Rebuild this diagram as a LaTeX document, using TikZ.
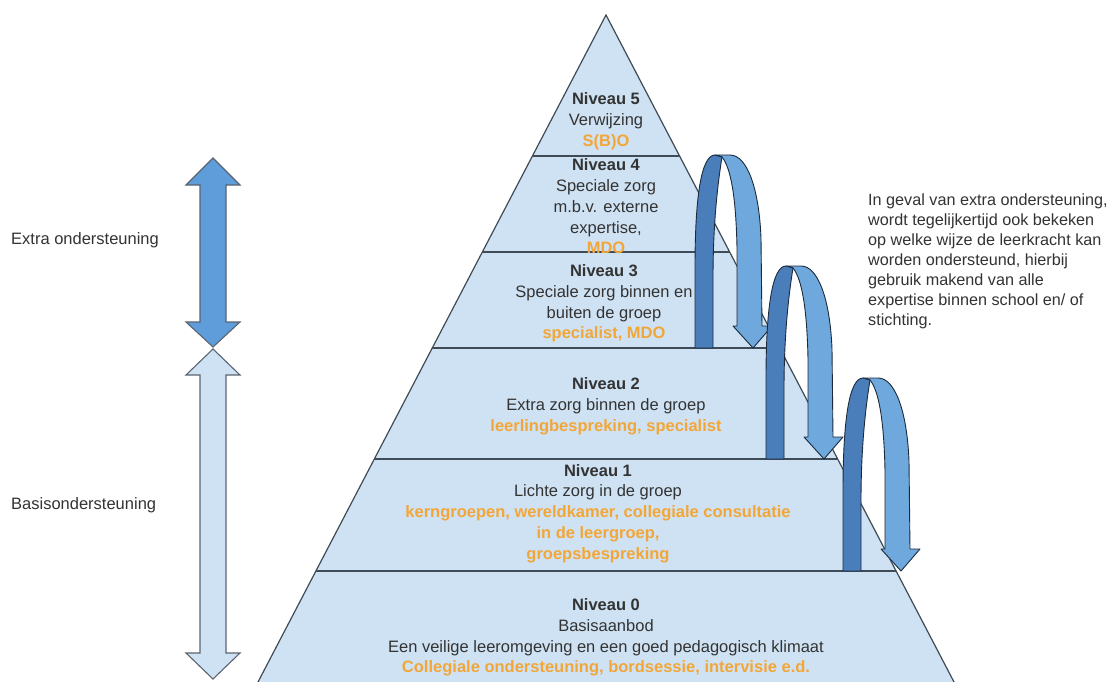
\documentclass[tikz,border=0pt]{standalone}
\usepackage{fontspec}
\setmainfont{Liberation Sans}
\usetikzlibrary{calc}
\definecolor{pyr}{HTML}{CFE2F3}
\definecolor{edge}{HTML}{3F4B57}
\definecolor{txt}{HTML}{333333}
\definecolor{org}{HTML}{F3A638}
\definecolor{riblight}{HTML}{6FA8DC}
\definecolor{ribdark}{HTML}{4A7EBB}
\definecolor{ribline}{HTML}{1C2B3C}
\definecolor{arrblue}{HTML}{5F9DDA}
\definecolor{arrline}{HTML}{5A6470}
\tikzset{
  lvl/.style={align=center, inner sep=0pt, text=txt, font=\fontsize{16.5}{20.8}\selectfont},
  sidelabel/.style={anchor=west, inner sep=0pt, text=txt, font=\fontsize{16.5}{20.8}\selectfont},
  note/.style={anchor=north west, align=left, inner sep=0pt, text=txt, font=\fontsize{16.2}{20}\selectfont},
  sepline/.style={draw=edge, line width=1.4pt},
  pyredge/.style={draw=edge, line width=1.2pt},
  ribbondark/.style={fill=ribdark, draw=ribline, line width=0.9pt, line join=round},
  ribbonlight/.style={fill=riblight, draw=ribline, line width=0.9pt, line join=round},
  dblupper/.style={fill=arrblue, draw=arrline, line width=1.1pt, line join=miter},
  dbllower/.style={fill=pyr, draw=arrline, line width=1.1pt, line join=miter},
  pics/uturn/.style={code={
    \filldraw[ribbonlight] (20,-193) -- (35,-193) .. controls (52,-193) and (64,-160) .. (66,-110) -- (67,-22) -- (77,-22) -- (58,0) -- (38,-22) -- (42,-22) -- (42,-100) .. controls (41,-150) and (36,-180) .. (27,-191) -- cycle;
    \filldraw[ribbondark] (0,0) -- (0,-80) .. controls (0,-150) and (6,-193) .. (20,-193) -- (27,-191) .. controls (22,-160) and (18,-120) .. (18,-70) -- (18,0) -- cycle;
  }}
}
\newcommand{\og}[1]{\textcolor{org}{\textbf{#1}}}
\begin{document}
\begin{tikzpicture}[x=1pt,y=-1pt]
\fill[white] (0,0) rectangle (1119,682);
\useasboundingbox (0,0) rectangle (1119,682);

% pyramid
\coordinate (apex) at (606,15);
\coordinate (bl) at (258,682);
\coordinate (br) at (954,682);
\fill[pyr] (apex) -- (bl) -- (br) -- cycle;
\draw[pyredge] (bl) -- (apex) -- (br);
\foreach \t in {0.2114,0.3553,0.4993,0.6657,0.8336}{
  \draw[sepline] ($(apex)!\t!(bl)$) -- ($(apex)!\t!(br)$);
}

% level texts
\node[lvl] (n5) at (606,121.5) {\textbf{Niveau 5}\\Verwijzing\\\og{S(B)O}};
\node[lvl] (n4) at (606,206.5) {\textbf{Niveau 4}\\Speciale zorg\\m.b.v. externe\\expertise,\\\og{MDO}};
\node[lvl] (n3) at (604,303.5) {\textbf{Niveau 3}\\Speciale zorg binnen en\\buiten de groep\\\og{specialist, MDO}};
\node[lvl] (n2) at (606,406) {\textbf{Niveau 2}\\Extra zorg binnen de groep\\\og{leerlingbespreking, specialist}};
\node[lvl] (n1) at (598,513.5) {\textbf{Niveau 1}\\Lichte zorg in de groep\\\og{kerngroepen, wereldkamer, collegiale consultatie}\\\og{in de leergroep,}\\\og{groepsbespreking}};
\node[lvl] (n0) at (606,637.5) {\textbf{Niveau 0}\\Basisaanbod\\Een veilige leeromgeving en een goed pedagogisch klimaat\\\og{Collegiale ondersteuning, bordsessie, intervisie e.d.}};

% U-turn arrows
\pic (u1) at (695,348) {uturn};
\pic (u2) at (766,459) {uturn};
\pic (u3) at (843,571) {uturn};

% left double arrows
\draw[dblupper] (213,158) -- (240,185) -- (226,185) -- (226,322) -- (240,322) -- (213,347) -- (186,322) -- (200,322) -- (200,185) -- (186,185) -- cycle;
\draw[dbllower] (213,349) -- (240,375) -- (226,375) -- (226,653) -- (240,653) -- (213,679) -- (186,653) -- (200,653) -- (200,375) -- (186,375) -- cycle;

% side labels
\node[sidelabel] (extra) at (11,240) {Extra ondersteuning};
\node[sidelabel] (basis) at (11,505) {Basisondersteuning};

% note
\node[note] (note) at (868,194) {In geval van extra ondersteuning,\\wordt tegelijkertijd ook bekeken\\op welke wijze de leerkracht kan\\worden ondersteund, hierbij\\gebruik makend van alle\\expertise binnen school en/ of\\stichting.};
\end{tikzpicture}
\end{document}
